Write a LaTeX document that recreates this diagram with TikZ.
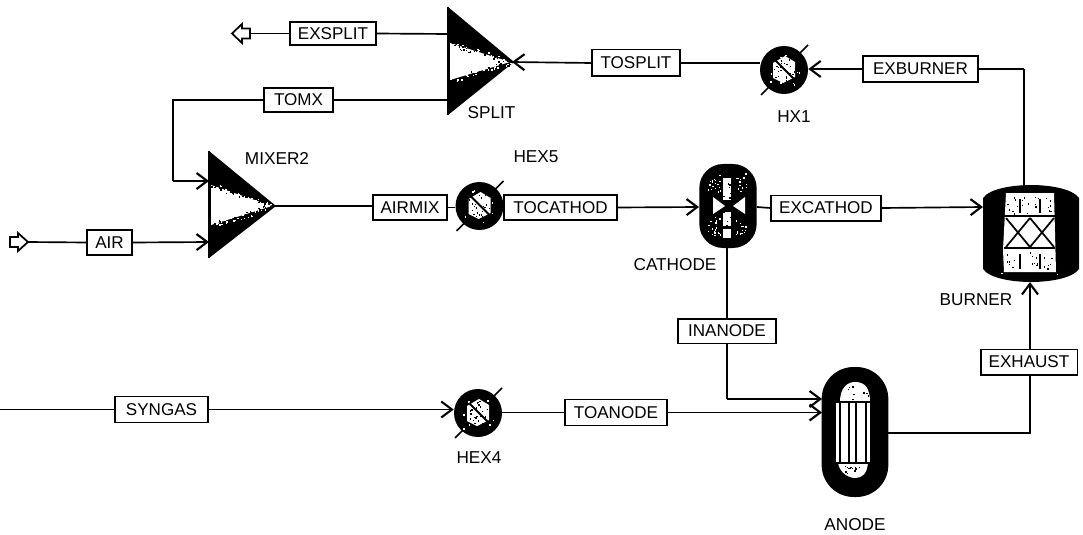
\documentclass[tikz,border=0pt]{standalone}
\usepackage{fontspec}
\setmainfont{Liberation Sans}
\usetikzlibrary{arrows.meta}
\tikzset{
  x=0.75pt,y=-0.75pt,
  conn/.style={line width=1.25pt,draw=black},
  arr/.style={conn,-{Straight Barb[length=8pt,width=12pt,line width=1.6pt]}},
  lbl/.style={draw=black,line width=1.25pt,fill=white,inner sep=0pt,font=\fontsize{12.8}{14}\selectfont,minimum height=19pt},
  unitname/.style={inner sep=0pt,font=\fontsize{12.9}{14}\selectfont},
  hexbody/.style={circle,fill=black,inner sep=0pt,minimum size=36pt},
  vessel/.style={fill=black,inner sep=0pt},
  inlet/.style={draw=black,line width=1.3pt,fill=white},
  fine/.style={line width=1.1pt,draw=black}
}
\newcommand{\specks}[5]{% cx cy rx ry n : black specks
  \foreach \k in {1,...,#5}{
    \pgfmathsetmacro{\sx}{#1+#3*(2*rnd-1)}
    \pgfmathsetmacro{\sy}{#2+#4*(2*rnd-1)}
    \fill[black] (\sx,\sy) rectangle ++(1.3,1.3);
  }}
\newcommand{\wspecks}[5]{% white specks
  \foreach \k in {1,...,#5}{
    \pgfmathsetmacro{\sx}{#1+#3*(2*rnd-1)}
    \pgfmathsetmacro{\sy}{#2+#4*(2*rnd-1)}
    \fill[white] (\sx,\sy) rectangle ++(1.4,1.4);
  }}
\newcommand{\edgefuzz}[5]{% x1 y1 x2 y2 n : fuzzy edge between black and white
  \foreach \k in {1,...,#5}{
    \pgfmathsetmacro{\et}{rnd}
    \pgfmathsetmacro{\sx}{#1+(#3-#1)*\et}
    \pgfmathsetmacro{\sy}{#2+(#4-#2)*\et+3*(2*rnd-1)}
    \pgfmathsetmacro{\st}{rnd}
    \ifdim\st pt<0.5pt
      \fill[black] (\sx,\sy) rectangle ++(1.6,1.6);
    \else
      \fill[white] (\sx,\sy) rectangle ++(1.6,1.6);
    \fi
  }}
\newcommand{\hexicon}[3]{% name cx cy
  \node[hexbody] (#1) at (#2,#3) {};
  \fill[white] (#2-11,#3-7) -- (#2+1,#3-14) -- (#2+11,#3-8) -- (#2+11,#3+7) -- (#2-1,#3+13) -- (#2-11,#3+8) -- cycle;
  \specks{#2}{#3}{11}{12}{30}
  \wspecks{#2}{#3}{15}{16}{16}
  \draw[line width=1.4pt] (#2-9,#3-10) -- (#2+10,#3+9);
  \draw[line width=1.1pt] (#2-23,#3+25) -- (#2-15,#3+17);
  \draw[line width=1.1pt] (#2+16,#3-17) -- (#2+24,#3-25);
}
\begin{document}
\begin{tikzpicture}
\pgfmathsetseed{7}
\useasboundingbox[fill=white] (0,0) rectangle (1083,535);

% ---- unit blocks
% splitter
\fill[black] (448,7) -- (514,62) -- (448,115) -- cycle;
\fill[white] (450,43) -- (510,62) -- (450,80) -- cycle;
\edgefuzz{450}{43}{510}{62}{60}
\edgefuzz{450}{80}{510}{62}{60}
\draw[line width=1.2pt] (448,7) -- (448,115);
\coordinate (splitTip) at (512,62);
\coordinate (splitA) at (448,34);
\coordinate (splitB) at (448,100);
% mixer
\fill[black] (209,151) -- (276,206) -- (209,258) -- cycle;
\fill[white] (211,185) -- (272,206) -- (211,225) -- cycle;
\edgefuzz{211}{185}{272}{206}{60}
\edgefuzz{211}{225}{272}{206}{60}
\draw[line width=1.2pt] (209,151) -- (209,258);
\coordinate (mixTip) at (275,206);
\coordinate (mixA) at (209,181);
\coordinate (mixB) at (209,242);
% heaters
\hexicon{hexfive}{479.5}{206}
\hexicon{hexone}{784}{70}
\hexicon{hexfour}{478}{413}

% cathode
\node[vessel,rounded corners=18pt,minimum width=43pt,minimum height=63pt] (cathode) at (728,206) {};
\fill[white] (723,178) rectangle (731,200);
\fill[white] (723,212) rectangle (731,226);
\fill[white] (723,229) rectangle (731,238);
\fill[white] (713,197) -- (725,206) -- (713,214) -- cycle;
\fill[white] (745,197) -- (733,206) -- (745,214) -- cycle;
\wspecks{714}{184}{7}{9}{18}
\wspecks{741}{182}{6}{9}{14}
\wspecks{713}{226}{7}{9}{18}
\wspecks{741}{226}{6}{9}{14}
\specks{727}{206}{5}{28}{14}

% burner
\node[inner sep=0pt,minimum width=72pt,minimum height=73pt] (burner) at (1031,233.5) {};
\fill[black] (983,198) .. controls (990,188) and (1015,185) .. (1031,185) .. controls (1047,185) and (1072,188) .. (1079,198)
  -- (1079,269) .. controls (1072,279) and (1047,282) .. (1031,282) .. controls (1015,282) and (990,279) .. (983,269) -- cycle;
\fill[white] (1006,193) -- (1054,193) -- (1056,272) -- (1004,272) -- (1003,250) -- cycle;
\specks{1030}{205}{24}{9}{22}
\specks{1030}{260}{24}{9}{22}
\wspecks{1030}{232}{30}{42}{14}
\draw[fine] (1004,216) -- (1055,216) (1004,248) -- (1055,248);
\draw[line width=1.3pt] (1006,218) -- (1030,247) (1030,218) -- (1006,247) (1030,218) -- (1054,247) (1054,218) -- (1030,247);
\foreach \tx in {1020,1040}{\draw[fine] (\tx,199) -- (\tx,213) (\tx,254) -- (\tx,269);}

% anode
\node[vessel,rounded corners=24pt,minimum width=50pt,minimum height=97.5pt] (anode) at (855,432) {};
\fill[white] (840,402) .. controls (840,387) and (848,382) .. (855,382) .. controls (865,382) and (870,388) .. (870,402) -- cycle;
\fill[white] (835,402) rectangle (871,463);
\fill[white] (838,463) .. controls (840,474) and (850,478) .. (855,478) .. controls (862,478) and (867,474) .. (868,463) -- cycle;
\specks{858}{392}{11}{7}{10}
\specks{853}{471}{9}{5}{12}
\foreach \tx in {835,840,849,856,866,871}{\draw[fine] (\tx,402) -- (\tx,463);}
\draw[fine] (835,402) -- (871,402) (835,463) -- (871,463);

% ---- inlet / outlet arrows
\coordinate (exOut) at (250,33.5);
\draw[inlet] (232,33.5) -- (242,24) -- (242,28.5) -- (250,28.5) -- (250,38.5) -- (242,38.5) -- (242,43) -- cycle;
\coordinate (airIn) at (28,242);
\draw[inlet] (28,242) -- (18,233) -- (18,237) -- (10,237) -- (10,247) -- (18,247) -- (18,251) -- cycle;
\coordinate (synIn) at (0,409.5);
\coordinate (tomxBendA) at (173,100);
\coordinate (tomxBendB) at (173,181);
\coordinate (inBend) at (727,399);
\coordinate (anA) at (822,399);
\coordinate (anB) at (822,412.5);
\coordinate (exhBend) at (1030,433);
\coordinate (anOut) at (888,433);
\coordinate (burnTop) at (1024,185);
\coordinate (burnBot) at (1030,282);
\coordinate (burnLeft) at (983,207);
\coordinate (burnBend) at (1024,69);
\coordinate (cathIn) at (699,207);
\coordinate (cathOut) at (757,207);
\coordinate (cathBot) at (727,248);

% ---- stream labels
\node[lbl,minimum width=64.5pt,minimum height=17.5pt] (exsplit) at (333,33.5) {EXSPLIT};
\node[lbl,minimum width=51.5pt,minimum height=18pt] (tomx) at (298.5,100) {TOMX};
\node[lbl,minimum width=66pt,minimum height=20pt] (tosplit) at (636,63) {TOSPLIT};
\node[lbl,minimum width=86pt,minimum height=19.5pt] (exburner) at (920.5,69) {EXBURNER};
\node[lbl,minimum width=55.5pt] (airmix) at (410,207.5) {AIRMIX};
\node[lbl,minimum width=84.5pt] (tocathod) at (560.5,207.5) {TOCATHOD};
\node[lbl,minimum width=82.5pt] (excathod) at (826,208) {EXCATHOD};
\node[lbl,minimum width=34pt] (air) at (109.5,242.5) {AIR};
\node[lbl,minimum width=73.5pt,minimum height=18.5pt] (inanode) at (727,331) {INANODE};
\node[lbl,minimum width=72.5pt] (exhaust) at (1029,362) {EXHAUST};
\node[lbl,minimum width=69.5pt,minimum height=19.5pt] (syngas) at (161.5,409.5) {SYNGAS};
\node[lbl,minimum width=76.5pt,minimum height=19.5pt] (toanode) at (616,412.5) {TOANODE};

% ---- connectors
\draw[conn] (exsplit.west) -- (exOut);
\draw[conn] (splitA) -- (exsplit.east);
\draw[conn] (splitB) -- (tomx.east);
\draw[conn] (tomx.west) -- (tomxBendA) -- (tomxBendB);
\draw[arr] (tomxBendB) -- (mixA);
\draw[conn] (airIn) -- (air.west);
\draw[arr] (air.east) -- (mixB);
\draw[conn] (mixTip) -- (mixTip -| airmix.west);
\draw[conn] (airmix.east) -- (hexfive.west |- airmix.east);
\draw[arr] (tocathod.east) -- (cathIn);
\draw[conn] (cathOut) -- (excathod.west);
\draw[arr] (excathod.east) -- (burnLeft);
\draw[conn] (burnTop) -- (burnBend);
\draw[conn] (burnBend) -- (exburner.east);
\draw[arr] (exburner.west) -- (hexone.east |- exburner.west);
\draw[conn] (hexone.west |- tosplit.east) -- (tosplit.east);
\draw[arr] (tosplit.west) -- (splitTip);
\draw[conn] (synIn) -- (syngas.west);
\draw[arr] (syngas.east) -- (hexfour.west |- syngas.east);
\draw[conn] (hexfour.east |- toanode.west) -- (toanode.west);
\draw[arr] (toanode.east) -- (anB);
\draw[conn] (cathBot) -- (inanode.north -| cathBot);
\draw[conn] (inanode.south -| cathBot) -- (inBend);
\draw[arr] (inBend) -- (anA);
\draw[conn] (anOut) -- (exhBend) -- (exhaust.south -| exhBend);
\draw[arr] (exhaust.north -| burnBot) -- (burnBot);

% ---- unit names
\node[unitname] (nsplit) at (491.5,113) {SPLIT};
\node[unitname] (nmixer) at (277,158) {MIXER2};
\node[unitname] (nhexfive) at (536,157) {HEX5};
\node[unitname] (nhxone) at (794,117) {HX1};
\node[unitname] (ncathode) at (675,265) {CATHODE};
\node[unitname] (nburner) at (976,300) {BURNER};
\node[unitname] (nhexfour) at (479,458) {HEX4};
\node[unitname] (nanode) at (855,525) {ANODE};
\end{tikzpicture}
\end{document}
